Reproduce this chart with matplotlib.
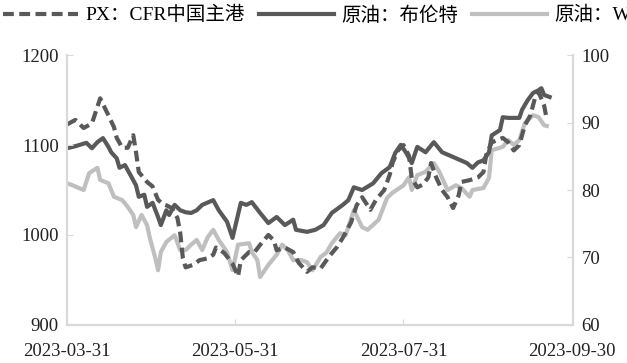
import matplotlib
matplotlib.use("Agg")
import matplotlib.pyplot as plt
import numpy as np
import pandas as pd

plt.rcParams['font.family'] = ['Liberation Serif', 'Noto Sans CJK SC']

start = pd.Timestamp("2023-03-31")

# PX: CFR China main port (left axis), days after 2023-03-31
px_days = [0, 3, 6, 9, 12, 15, 17, 18, 20, 22, 24, 25, 26, 29, 31, 33, 35, 36, 38, 40,
           41, 42, 43, 46, 48, 51, 53, 54, 57, 58, 60, 62, 63, 66, 68, 70, 73, 75, 76, 79,
           82, 84, 87, 89, 92, 95, 98, 100, 103, 105, 107, 110, 112, 115, 117, 118, 120, 122, 124, 125,
           127, 129, 131, 132, 134, 136, 138, 140, 142, 143, 146, 149, 151, 152, 154, 158, 160, 162, 164, 166,
           168, 170, 171, 173, 174]
px_vals = [1123, 1128, 1119, 1124, 1152, 1133, 1120, 1108, 1097, 1097, 1111, 1092, 1070, 1059, 1054, 1039, 1034, 1033, 1030, 1019,
           1003, 974, 964, 967, 972, 974, 978, 986, 980, 976, 968, 954, 972, 981, 981, 989, 1000, 994, 983, 986,
           981, 969, 959, 964, 963, 976, 987, 997, 1014, 1033, 1042, 1028, 1039, 1050, 1067, 1080, 1094, 1100, 1088, 1063,
           1053, 1056, 1064, 1080, 1063, 1050, 1042, 1030, 1044, 1059, 1061, 1064, 1070, 1089, 1103, 1108, 1103, 1094, 1100, 1122,
           1133, 1156, 1159, 1144, 1128]

# Brent (right axis)
brent_days = [0, 3, 7, 9, 11, 13, 15, 16, 18, 19, 21, 23, 25, 26, 28, 29, 31, 33, 34, 36,
              37, 39, 41, 43, 45, 47, 49, 53, 55, 58, 60, 63, 65, 67, 70, 73, 76, 79, 82, 83,
              87, 90, 93, 96, 100, 102, 104, 107, 111, 114, 117, 119, 121, 123, 125, 127, 130, 133, 136, 140,
              145, 147, 149, 151, 153, 154, 157, 158, 160, 164, 165, 167, 169, 171, 172, 173, 175]
brent_vals = [86.2, 86.5, 87.0, 86.2, 87.1, 87.7, 86.4, 85.6, 84.7, 83.3, 83.7, 82.2, 80.7, 79.0, 79.3, 77.5, 78.1, 76.0, 74.8, 77.0,
              76.3, 77.8, 77.0, 76.7, 76.6, 77.0, 77.8, 78.5, 77.0, 75.3, 72.9, 78.1, 77.8, 78.2, 76.6, 75.1, 76.0, 74.8, 75.6, 74.1,
              73.8, 74.1, 74.8, 76.6, 77.8, 78.5, 80.4, 80.0, 81.0, 82.5, 83.4, 85.5, 86.7, 85.5, 84.0, 86.4, 85.6, 87.1, 85.6, 84.9,
              84.0, 83.3, 84.1, 84.4, 85.6, 88.1, 88.9, 90.8, 90.7, 90.7, 91.9, 93.3, 94.4, 94.8, 95.1, 94.1, 93.8]

# WTI (right axis)
wti_days = [0, 2, 6, 8, 11, 12, 15, 17, 20, 22, 24, 25, 27, 29, 30, 32, 33, 34, 36, 39,
            41, 43, 45, 47, 49, 51, 53, 55, 58, 60, 62, 66, 67, 69, 70, 73, 76, 78, 80, 82,
            85, 87, 89, 92, 94, 96, 99, 101, 104, 107, 109, 113, 116, 118, 122, 124, 125, 127, 130, 133,
            135, 138, 141, 143, 146, 147, 151, 153, 154, 158, 160, 162, 164, 166, 169, 171, 173, 174]
wti_vals = [81.0, 80.7, 80.0, 82.5, 83.3, 81.5, 81.0, 79.0, 78.5, 77.5, 76.3, 74.5, 76.3, 74.8, 72.9, 69.9, 68.1, 70.8, 72.3, 73.3,
            71.1, 71.1, 71.9, 72.6, 71.1, 73.0, 74.1, 72.6, 70.8, 68.1, 71.9, 72.1, 70.8, 69.6, 67.1, 68.9, 70.4, 71.9, 71.1, 69.6,
            69.6, 69.3, 68.1, 70.1, 70.7, 72.1, 73.6, 73.3, 77.0, 74.5, 74.1, 75.6, 78.8, 79.6, 80.7, 81.9, 80.0, 82.2, 82.7, 84.0,
            82.7, 80.0, 80.7, 80.3, 79.0, 80.0, 80.3, 81.8, 85.9, 86.4, 87.4, 86.7, 87.4, 89.9, 91.1, 90.8, 89.6, 89.5]

tick_dates = ["2023-03-31", "2023-05-31", "2023-07-31", "2023-09-30"]

dark = "#595959"
light = "#BFBFBF"
axis_grey = "#D9D9D9"

fig = plt.figure(figsize=(6.27, 3.63), dpi=100)
ax = fig.add_axes([0.107, 0.105, 0.807, 0.743])
ax2 = ax.twinx()

px_x = start + pd.to_timedelta(px_days, unit="D")
brent_x = start + pd.to_timedelta(brent_days, unit="D")
wti_x = start + pd.to_timedelta(wti_days, unit="D")

l1, = ax.plot(px_x, px_vals, color=dark, lw=3, dashes=(2.6, 1.3), solid_joinstyle="round")
l3, = ax2.plot(wti_x, wti_vals, color=light, lw=3)
l2, = ax2.plot(brent_x, brent_vals, color=dark, lw=3)
ax.set_zorder(ax2.get_zorder() + 1)
ax.patch.set_visible(False)

ax.set_ylim(900, 1200)
ax.set_yticks([900, 1000, 1100, 1200])
ax2.set_ylim(60, 100)
ax2.set_yticks([60, 70, 80, 90, 100])
ticks = pd.to_datetime(tick_dates)
ax.set_xlim(ticks[0], ticks[-1] + pd.Timedelta(days=0.5))
ax.set_xticks(ticks)
ax.set_xticklabels(tick_dates)

for a in (ax, ax2):
    a.spines["top"].set_visible(False)
    for s in ("left", "right", "bottom"):
        a.spines[s].set_color(axis_grey)
        a.spines[s].set_linewidth(1.5)
    a.tick_params(direction="in", length=4, color=axis_grey, labelsize=13.5,
                  labelcolor="#222222", pad=6)
ax.tick_params(axis="x", pad=13)

fig.legend([l1, l2, l3], ["PX：CFR中国主港", "原油：布伦特", "原油：WTI"],
           loc="center left", bbox_to_anchor=(0.005, 0.958), ncol=3, frameon=False,
           fontsize=14, handlelength=3.85, handletextpad=0.36, columnspacing=0.75,
           borderaxespad=0, borderpad=0)

fig.savefig("out.png", dpi=100)
